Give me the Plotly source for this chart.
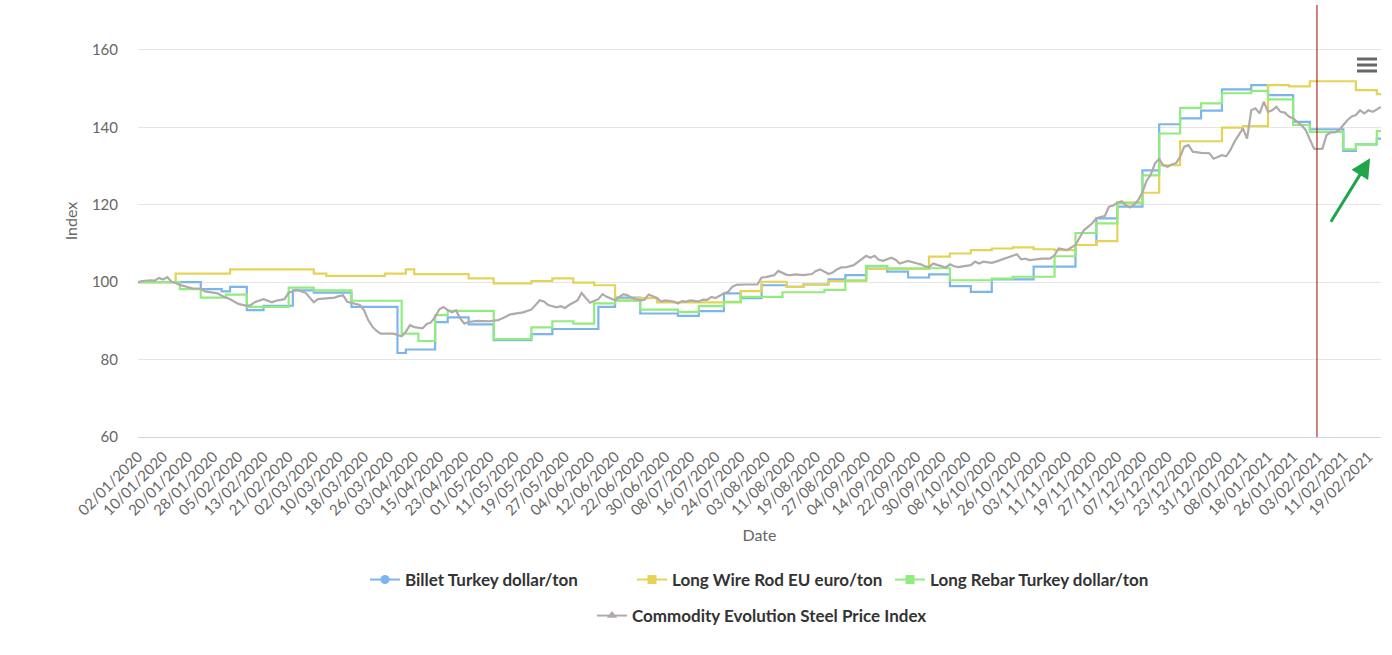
import plotly.graph_objects as go

# ---------------- data (x = trading-day number, 0 = 02/01/2020) ----------------
tick_labels = ["02/01/2020", "10/01/2020", "20/01/2020", "28/01/2020", "05/02/2020", "13/02/2020",
               "21/02/2020", "02/03/2020", "10/03/2020", "18/03/2020", "26/03/2020", "03/04/2020",
               "15/04/2020", "23/04/2020", "01/05/2020", "11/05/2020", "19/05/2020", "27/05/2020",
               "04/06/2020", "12/06/2020", "22/06/2020", "30/06/2020", "08/07/2020", "16/07/2020",
               "24/07/2020", "03/08/2020", "11/08/2020", "19/08/2020", "27/08/2020", "04/09/2020",
               "14/09/2020", "22/09/2020", "30/09/2020", "08/10/2020", "16/10/2020", "26/10/2020",
               "03/11/2020", "11/11/2020", "19/11/2020", "27/11/2020", "07/12/2020", "15/12/2020",
               "23/12/2020", "31/12/2020", "08/01/2021", "18/01/2021", "26/01/2021", "03/02/2021",
               "11/02/2021", "19/02/2021"]
tick_step = 6
last_day = 297

billet_days = [0, 15, 20, 22, 26, 30, 37, 42, 51, 62, 64, 71, 74, 79, 85, 94, 99, 110, 114, 120,
               129, 134, 140, 144, 149, 155, 159, 165, 169, 174, 179, 184, 189, 194, 199, 204, 214,
               224, 229, 234, 240, 244, 249, 254, 259, 266, 270, 276, 280, 288, 291, 296, 297]
billet_values = [100, 98.2, 97.6, 98.8, 92.8, 93.9, 97.9, 97.3, 93.6, 81.7, 82.6, 89.7, 90.9, 89.1,
                 85.0, 86.6, 87.9, 93.6, 96.0, 91.9, 91.3, 92.5, 97.1, 95.9, 99.2, 98.8, 99.4, 100.7,
                 101.8, 104.1, 102.7, 101.2, 102.0, 99.0, 97.5, 100.7, 104.0, 109.6, 116.5, 119.5,
                 128.9, 140.8, 142.3, 144.3, 149.8, 150.9, 148.3, 141.4, 139.5, 133.9, 135.6, 137.1,
                 137.1]

wirerod_days = [0, 9, 22, 42, 45, 59, 64, 66, 79, 85, 94, 99, 104, 109, 114, 119, 124, 144, 149,
                155, 159, 165, 174, 189, 194, 199, 204, 209, 214, 219, 224, 229, 234, 240, 244, 249,
                259, 264, 270, 275, 280, 291, 296, 297]
wirerod_values = [100, 102.2, 103.3, 102.2, 101.6, 102.2, 103.3, 102.1, 101.0, 99.7, 100.3, 101.0,
                  99.9, 99.2, 95.3, 95.9, 94.8, 97.7, 100.1, 98.8, 99.4, 100.3, 103.4, 106.6, 107.4,
                  108.3, 108.7, 109.0, 108.5, 108.3, 109.6, 110.6, 120.6, 123.1, 130.2, 136.4, 139.9,
                  140.3, 150.9, 150.6, 151.9, 149.6, 148.6, 148.6]

rebar_days = [0, 10, 15, 21, 26, 36, 42, 51, 63, 67, 71, 74, 85, 94, 99, 104, 109, 114, 120, 129,
              134, 140, 144, 154, 164, 169, 174, 179, 194, 204, 209, 219, 224, 229, 234, 240, 244,
              249, 254, 259, 266, 270, 276, 280, 288, 291, 296, 297]
rebar_values = [100, 98.2, 96.0, 96.8, 93.6, 98.6, 97.9, 95.2, 86.7, 84.8, 91.5, 92.6, 85.3, 88.3,
                89.9, 89.3, 94.5, 95.2, 92.9, 92.3, 93.8, 94.9, 96.2, 97.4, 98.0, 100.5, 104.2, 103.6,
                100.5, 100.9, 101.4, 106.7, 112.7, 115.2, 120.4, 127.6, 138.4, 145.0, 146.2, 148.8,
                149.4, 147.2, 140.6, 138.8, 134.3, 135.6, 139.0, 139.0]

index_days = [0, 1, 3, 4, 5, 6, 7, 8, 9, 10, 12, 13, 15, 16, 19, 20, 22, 24, 26, 27, 28, 30, 32, 33,
              35, 36, 38, 40, 42, 43, 45, 47, 48, 49, 50, 52, 53, 54, 55, 56, 57, 58, 61, 63, 64, 65,
              66, 68, 69, 70, 71, 72, 73, 74, 75, 76, 77, 78, 79, 81, 84, 86, 87, 89, 91, 92, 94, 95,
              96, 97, 98, 100, 101, 102, 103, 105, 106, 107, 108, 110, 111, 112, 114, 115, 116, 117,
              118, 120, 121, 122, 124, 125, 126, 128, 129, 130, 131, 132, 134, 135, 136, 137, 138,
              140, 141, 142, 143, 145, 148, 149, 150, 152, 153, 155, 156, 157, 159, 161, 162, 163,
              165, 166, 167, 168, 169, 171, 172, 173, 174, 175, 176, 177, 178, 180, 181, 182, 183,
              184, 186, 187, 188, 189, 190, 192, 193, 194, 195, 196, 198, 199, 200, 201, 202, 204,
              205, 206, 207, 208, 210, 211, 212, 213, 215, 216, 218, 219, 220, 222, 224, 225, 226,
              228, 229, 230, 231, 232, 233, 234, 235, 236, 237, 238, 239, 240, 241, 242, 243, 244,
              245, 246, 247, 248, 249, 250, 251, 252, 254, 256, 257, 259, 260, 261, 262, 263, 264,
              265, 266, 267, 268, 269, 270, 271, 272, 273, 274, 275, 276, 277, 278, 279, 280, 281,
              282, 283, 284, 285, 286, 287, 288, 289, 290, 291, 292, 293, 294, 295, 296, 297]
index_values = [100.0, 100.3, 100.5, 100.4, 101.1, 100.7, 101.3, 100.1, 99.8, 99.3, 98.7, 98.4, 98.3,
                97.6, 97.1, 96.5, 95.6, 94.4, 93.9, 94.1, 94.9, 95.6, 94.8, 95.2, 95.6, 97.3, 98.0,
                97.3, 94.8, 95.6, 95.8, 96.0, 96.4, 96.6, 94.9, 94.3, 94.1, 92.8, 90.2, 88.5, 87.4,
                86.7, 86.7, 86.0, 87.2, 88.9, 88.4, 88.1, 89.2, 89.6, 91.0, 93.0, 93.6, 92.8, 92.2,
                92.7, 90.6, 89.3, 89.7, 90.0, 89.9, 90.2, 90.6, 91.7, 92.1, 92.2, 92.9, 94.0, 95.3,
                95.0, 94.1, 93.5, 93.8, 93.3, 94.1, 95.3, 97.2, 95.9, 94.7, 95.6, 96.9, 96.2, 95.3,
                96.2, 96.9, 96.6, 95.9, 95.3, 95.4, 96.8, 95.9, 95.0, 95.3, 95.0, 94.5, 95.1, 95.0,
                95.3, 95.0, 95.5, 95.4, 96.2, 95.9, 97.1, 97.5, 98.8, 99.3, 99.4, 99.4, 101.2, 101.3,
                101.8, 102.9, 101.9, 101.8, 102.0, 101.8, 102.1, 102.9, 103.3, 102.1, 102.5, 103.3,
                103.8, 103.8, 104.4, 105.2, 105.9, 106.8, 106.3, 106.8, 105.8, 105.5, 106.3, 105.8,
                104.8, 105.2, 105.5, 104.9, 104.6, 104.1, 103.9, 104.8, 104.0, 103.8, 104.6, 104.1,
                103.9, 104.2, 104.4, 105.3, 104.8, 105.3, 105.0, 105.3, 105.7, 106.1, 106.5, 107.2,
                105.9, 106.1, 105.7, 105.9, 106.1, 106.1, 107.0, 108.7, 108.3, 109.6, 111.7, 113.4,
                115.2, 116.5, 116.8, 117.1, 119.5, 119.8, 120.5, 120.9, 119.9, 119.3, 120.0, 121.2,
                123.2, 126.2, 127.8, 130.7, 131.8, 130.2, 129.8, 130.4, 130.7, 132.4, 135.0, 135.4,
                133.7, 133.4, 133.3, 131.9, 132.8, 132.5, 134.1, 136.3, 138.0, 139.7, 137.1, 144.4,
                144.9, 143.6, 146.6, 144.0, 144.4, 145.3, 144.0, 143.8, 142.8, 142.3, 141.4, 140.6,
                139.3, 137.0, 134.5, 134.4, 134.5, 138.0, 138.7, 138.7, 139.3, 140.6, 141.9, 142.8,
                143.2, 144.4, 143.6, 144.4, 144.0, 144.6, 145.3]

series = [
    ("Billet Turkey dollar/ton", billet_days, billet_values, "#7cb5ec", "hv", "circle"),
    ("Long Wire Rod EU euro/ton", wirerod_days, wirerod_values, "#e4d354", "hv", "square"),
    ("Long Rebar Turkey dollar/ton", rebar_days, rebar_values, "#90ed7d", "hv", "square"),
    ("Commodity Evolution Steel Price Index", index_days, index_values, "#b0aaaa", "linear", "triangle-up"),
]

# ---------------- figure ----------------
W, H = 1392, 655
ML, MR, MT, MB = 138, 11, 5, 218
PW, PH = W - ML - MR, H - MT - MB

def px_x(p):
    return (p - ML) / PW

def px_y(p):
    return (H - MB - p) / PH

fig = go.Figure()
for name, d, v, c, shape, sym in series:
    fig.add_trace(go.Scatter(x=d, y=v, mode="lines", name=name, showlegend=False,
                             line=dict(color=c, width=2.2, shape=shape), hoverinfo="skip"))

legend_ids = ["legend", "legend2", "legend3", "legend4"]
legend_text_x = [405, 672, 930, 632]
legend_text_y = [580, 580, 580, 616]
legend_font = dict(family="Lato", size=17, color="#333333", weight="bold")
layout_legends = {}
for (name, d, v, c, shape, sym), lid, tx, ty in zip(series, legend_ids, legend_text_x, legend_text_y):
    fig.add_trace(go.Scatter(x=[None], y=[None], mode="lines+markers", name=name, legend=lid,
                             line=dict(color=c, width=2), marker=dict(color=c, symbol=sym, size=9)))
    layout_legends[lid] = dict(x=px_x(tx - 40), y=px_y(ty), xanchor="left", yanchor="middle",
                               orientation="h", font=legend_font, bgcolor="rgba(0,0,0,0)",
                               itemclick=False, itemdoubleclick=False)

fig.update_layout(
    width=W, height=H,
    margin=dict(l=ML, r=MR, t=MT, b=MB, autoexpand=False),
    paper_bgcolor="white", plot_bgcolor="white",
    font=dict(family="Lato", color="#666666"),
    hovermode=False,
    xaxis=dict(range=[0, last_day], tickmode="array",
               tickvals=list(range(0, tick_step * len(tick_labels), tick_step)),
               ticktext=tick_labels, tickangle=-45,
               tickfont=dict(family="Lato", size=15, color="#666666"),
               ticks="outside", ticklen=4, tickcolor="rgba(0,0,0,0)",
               showgrid=False, zeroline=False, showline=True, linecolor="#ccd6eb", linewidth=1,
               title=dict(text="Date", font=dict(family="Lato", size=16, color="#666666"), standoff=12),
               automargin=False, fixedrange=True),
    yaxis=dict(range=[60, 171.6], tickmode="array", tickvals=[60, 80, 100, 120, 140, 160],
               tickfont=dict(family="Lato", size=15, color="#666666"),
               ticks="outside", ticklen=16, tickcolor="rgba(0,0,0,0)",
               showgrid=True, gridcolor="#e6e6e6", gridwidth=1, zeroline=False, showline=False,
               title=dict(text="Index", font=dict(family="Lato", size=16, color="#666666"), standoff=10),
               automargin=False, fixedrange=True),
    **layout_legends,
)

# crosshair / marker line
fig.add_shape(type="line", xref="x", yref="paper", x0=281.7, x1=281.7, y0=0, y1=1,
              line=dict(color="#a30000", width=1))

# context-menu (hamburger) icon
for py in (59, 65, 71):
    fig.add_shape(type="line", xref="paper", yref="paper", x0=px_x(1357), x1=px_x(1377),
                  y0=px_y(py), y1=px_y(py), line=dict(color="#666666", width=3))

# green hand-drawn arrow
fig.add_annotation(x=294.4, y=132.0, ax=284.8, ay=115.2, xref="x", yref="y", axref="x", ayref="y",
                   text="", showarrow=True, arrowhead=2, arrowsize=1.3, arrowwidth=3,
                   arrowcolor="#1fa64a")

fig.write_html("out.html", config={"displayModeBar": False},
               post_script="document.body.style.margin='0';document.body.style.overflow='hidden';")
